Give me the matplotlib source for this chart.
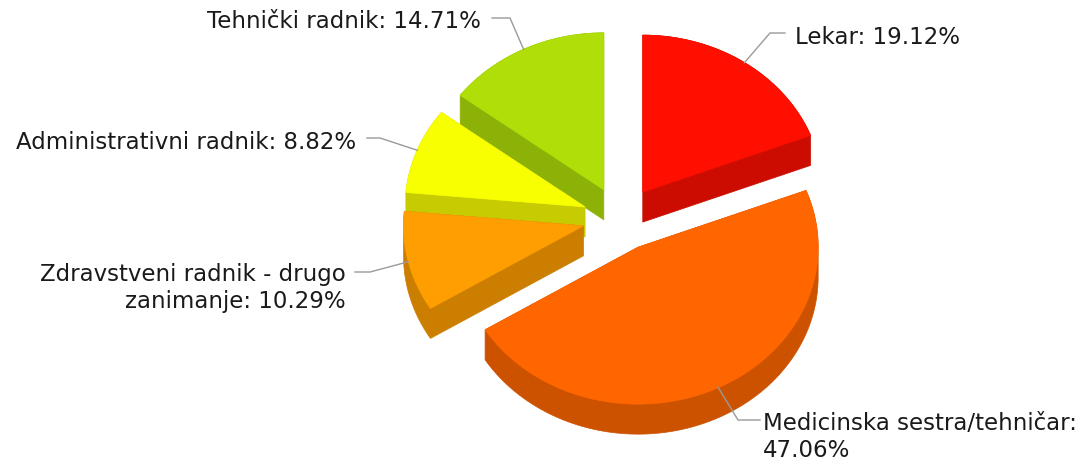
import numpy as np
import matplotlib.pyplot as plt
from matplotlib.patches import Polygon

# slices clockwise from 12 o'clock
names = ['Lekar', 'Medicinska sestra/tehničar', 'Zdravstveni radnik - drugo\nzanimanje',
         'Administrativni radnik', 'Tehnički radnik']
shares = [19.12, 47.06, 10.29, 8.82, 14.71]
wrap_after_colon = [False, True, False, False, False]
tops = ['#FF0F00', '#FF6600', '#FF9E01', '#F8FF01', '#B0DE09']
sides = ['#CC0C00', '#CC5200', '#CC7E01', '#C6CC01', '#8DB207']

# pie geometry in pixels (axes spans the whole figure)
cx, cy = 621, 218.5
rx, ry = 180, 157
ex, ey = 38.5, 32
depth = 30

# label layout: (elbow, line end, text pos, ha)
label_layout = [
    ((770, 33), (785, 33), (795, 38), 'left'),
    ((738, 420), (760, 420), (763, 437), 'left'),
    ((370, 272), (355, 272), (346, 288), 'right'),
    ((380, 138), (367, 138), (356, 142), 'right'),
    ((510, 18), (492, 18), (481, 22), 'right'),
]


def hull(points):
    pts = sorted(set(map(tuple, np.round(points, 3))))
    def cross(o, a, b):
        return (a[0] - o[0]) * (b[1] - o[1]) - (a[1] - o[1]) * (b[0] - o[0])
    lower, upper = [], []
    for p in pts:
        while len(lower) >= 2 and cross(lower[-2], lower[-1], p) <= 0:
            lower.pop()
        lower.append(p)
    for p in reversed(pts):
        while len(upper) >= 2 and cross(upper[-2], upper[-1], p) <= 0:
            upper.pop()
        upper.append(p)
    return np.array(lower[:-1] + upper[:-1])


fig = plt.figure(figsize=(10.78, 4.61), dpi=100)
ax = fig.add_axes([0, 0, 1, 1])
ax.set_xlim(0, 1078)
ax.set_ylim(461, 0)
ax.axis('off')

fracs = np.array(shares) / np.sum(shares)
edges = np.concatenate([[0], np.cumsum(fracs)]) * 2 * np.pi
mids = (edges[:-1] + edges[1:]) / 2

# back to front
order = np.argsort(-np.cos(mids))
for i in order:
    t = np.linspace(edges[i], edges[i + 1], 120)
    ax0 = cx + ex * np.sin(mids[i])
    ay0 = cy - ey * np.cos(mids[i])
    arc = np.column_stack([ax0 + rx * np.sin(t), ay0 - ry * np.cos(t)])
    top = np.vstack([[ax0, ay0], arc])
    body = hull(np.vstack([top, top + [0, depth]]))
    ax.add_patch(Polygon(body, closed=True, fc=sides[i], ec=sides[i], lw=0.5, zorder=2))
    ax.add_patch(Polygon(top, closed=True, fc=tops[i], ec=tops[i], lw=0.5, zorder=2))

for i, (elbow, end, tpos, ha) in enumerate(label_layout):
    ax0 = cx + ex * np.sin(mids[i])
    ay0 = cy - ey * np.cos(mids[i])
    rim = (ax0 + rx * np.sin(mids[i]), ay0 - ry * np.cos(mids[i]))
    ax.plot([rim[0], elbow[0], end[0]], [rim[1], elbow[1], end[1]],
            color='#9a9a9a', lw=1, zorder=3, solid_joinstyle='miter')
    sep = '\n' if wrap_after_colon[i] else ' '
    txt = f'{names[i]}:{sep}{shares[i]:.2f}%'
    ax.text(tpos[0], tpos[1], txt, ha=ha, va='center', fontsize=16.5,
            color='#1a1a1a', linespacing=1.25, multialignment=ha, zorder=4)

fig.savefig('out.png', dpi=100)
